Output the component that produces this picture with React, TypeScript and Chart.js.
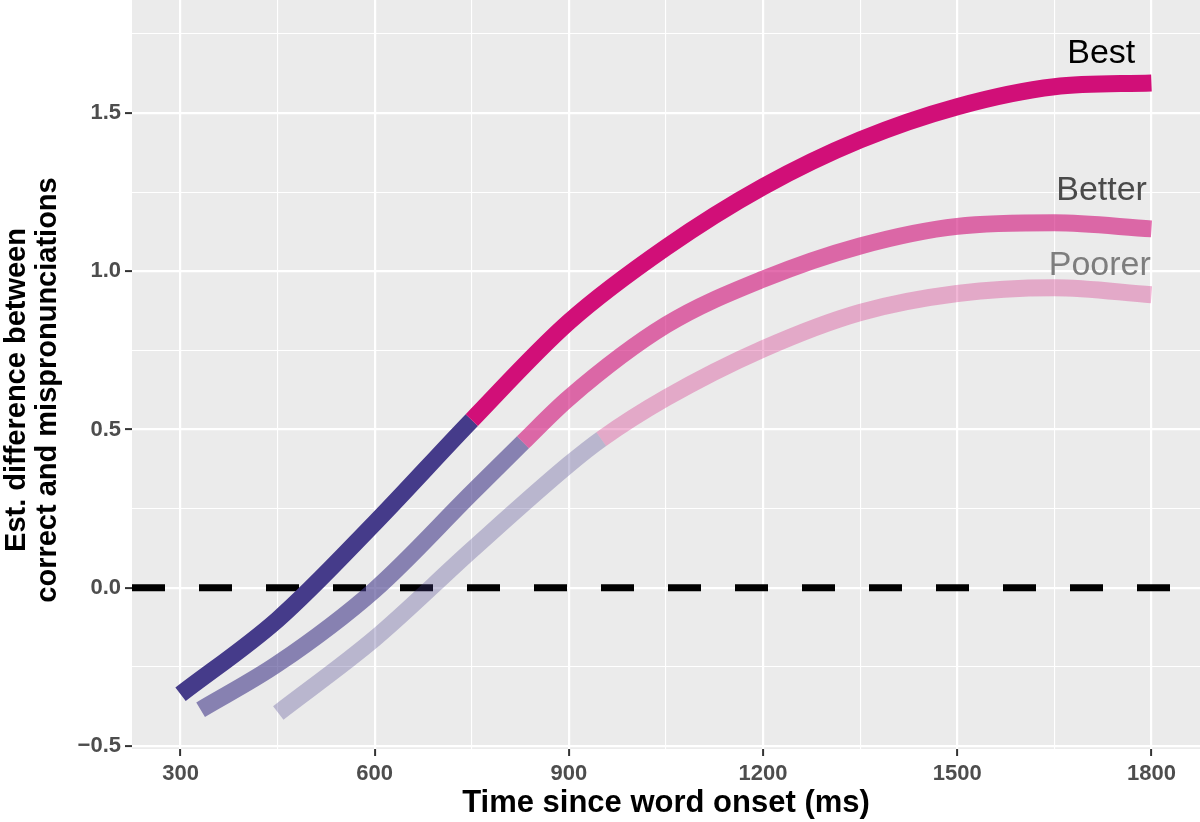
import React, { useEffect, useRef } from 'react';
import { Chart, registerables } from 'chart.js';

Chart.register(...registerables);

// Axis ranges and ticks
const X_MIN = 225;
const X_MAX = 1875;
const Y_MIN = -0.509;
const Y_MAX = 1.857;
const xMajorTicks = [300, 600, 900, 1200, 1500, 1800];
const xMinorTicks = [450, 750, 1050, 1350, 1650];
const yMajorTicks = [-0.5, 0, 0.5, 1.0, 1.5];
const yMinorTicks = [-0.25, 0.25, 0.75, 1.25, 1.75];
const yTickLabels = ['\u22120.5', '0.0', '0.5', '1.0', '1.5'];

// Series (time in ms, estimated difference)
const groupNames = ['Best', 'Better', 'Poorer'];

const bestX = [300, 450, 600, 750, 900, 1050, 1200, 1350, 1500, 1650, 1800];
const bestY = [-0.336, -0.1, 0.205, 0.53, 0.84, 1.075, 1.267, 1.415, 1.52, 1.583, 1.595];
const bestSwitch = 750;

const betterX = [331, 450, 600, 750, 829, 900, 1050, 1200, 1350, 1500, 1650, 1800];
const betterY = [-0.385, -0.24, -0.006, 0.3, 0.46, 0.6, 0.83, 0.975, 1.08, 1.142, 1.153, 1.134];
const betterSwitch = 829;

const poorerX = [451, 600, 750, 900, 950, 1050, 1200, 1350, 1500, 1650, 1800];
const poorerY = [-0.395, -0.16, 0.12, 0.39, 0.47, 0.6, 0.755, 0.87, 0.93, 0.948, 0.926];
const poorerSwitch = 950;

// Reference line
const refLineX = [X_MIN, X_MAX];
const refLineY = [0, 0];

// Text labels next to curve ends
const labelX = [1775, 1793, 1799];
const labelY = [1.659, 1.226, 0.989];
const labelColors = ['#000000', '#4a4a4a', '#7d7d7d'];

const lowColors = ['rgba(69,59,138,1)', 'rgba(69,59,138,0.6)', 'rgba(69,59,138,0.3)'];
const highColors = ['rgba(209,15,120,1)', 'rgba(209,15,120,0.6)', 'rgba(209,15,120,0.3)'];

const xTitle = 'Time since word onset (ms)';
const yTitle = ['Est. difference between', 'correct and mispronunciations'];

const FONT = "'Liberation Sans', Arial, Helvetica, sans-serif";

const seriesX = [bestX, betterX, poorerX];
const seriesY = [bestY, betterY, poorerY];
const switches = [bestSwitch, betterSwitch, poorerSwitch];

const bgPlugin = {
  id: 'panelBg',
  beforeDraw(chart: any) {
    const { ctx, chartArea } = chart;
    ctx.save();
    ctx.fillStyle = '#ffffff';
    ctx.fillRect(0, 0, chart.width, chart.height);
    ctx.fillStyle = '#EBEBEB';
    ctx.fillRect(chartArea.left, chartArea.top, chartArea.right - chartArea.left, chartArea.bottom - chartArea.top);
    ctx.restore();
  },
};

const textPlugin = {
  id: 'texts',
  afterDraw(chart: any) {
    const { ctx, chartArea } = chart;
    const xs = chart.scales.x;
    const ys = chart.scales.y;
    ctx.save();
    // curve labels
    ctx.font = `34px ${FONT}`;
    ctx.textAlign = 'right';
    ctx.textBaseline = 'alphabetic';
    groupNames.forEach((name, i) => {
      ctx.fillStyle = labelColors[i];
      ctx.fillText(name, xs.getPixelForValue(labelX[i]), ys.getPixelForValue(labelY[i]));
    });
    // x title
    ctx.fillStyle = '#000000';
    ctx.font = `bold 31px ${FONT}`;
    ctx.textAlign = 'center';
    ctx.fillText(xTitle, (chartArea.left + chartArea.right) / 2, 812);
    // y title
    ctx.translate(0, 390);
    ctx.rotate(-Math.PI / 2);
    ctx.font = `bold 29px ${FONT}`;
    ctx.fillText(yTitle[0], 0, 25);
    ctx.fillText(yTitle[1], 0, 56);
    ctx.restore();
  },
};

function buildTicks(major: number[], minor: number[]) {
  return [...major, ...minor].sort((a, b) => a - b).map((v) => ({ value: v }));
}

function isMajor(list: number[], v: number) {
  return list.some((m) => Math.abs(m - v) < 1e-9);
}

export default function App() {
  const ref = useRef<HTMLCanvasElement | null>(null);

  useEffect(() => {
    if (!ref.current) return;
    const curveSets = groupNames.map((name, i) => ({
      label: name,
      data: seriesX[i].map((x, j) => ({ x, y: seriesY[i][j] })),
      borderColor: lowColors[i],
      borderWidth: 17,
      borderCapStyle: 'butt' as const,
      borderJoinStyle: 'miter' as const,
      pointRadius: 0,
      cubicInterpolationMode: 'monotone' as const,
      fill: false,
      order: i + 1,
      segment: {
        borderColor: (c: any) => (c.p0.parsed.x < switches[i] ? lowColors[i] : highColors[i]),
      },
    }));
    const refSet = {
      label: 'zero',
      data: refLineX.map((x, j) => ({ x, y: refLineY[j] })),
      borderColor: '#000000',
      borderWidth: 7,
      borderDash: [33, 34],
      borderCapStyle: 'butt' as const,
      pointRadius: 0,
      fill: false,
      order: 10,
    };

    const chart = new Chart(ref.current, {
      type: 'line',
      data: { datasets: [...curveSets, refSet] as any },
      options: {
        animation: false,
        responsive: false,
        maintainAspectRatio: false,
        layout: { padding: 0 },
        plugins: { legend: { display: false }, tooltip: { enabled: false } },
        scales: {
          x: {
            type: 'linear',
            min: X_MIN,
            max: X_MAX,
            afterFit: (s: any) => {
              s.height = 73;
              s.paddingLeft = 0;
              s.paddingRight = 0;
            },
            afterBuildTicks: (s: any) => {
              s.ticks = buildTicks(xMajorTicks, xMinorTicks);
            },
            border: { display: false },
            grid: {
              color: '#ffffff',
              lineWidth: (c: any) => (isMajor(xMajorTicks, c.tick?.value) ? 2.2 : 1.1),
              tickColor: (c: any) => (isMajor(xMajorTicks, c.tick?.value) ? '#333333' : 'rgba(0,0,0,0)'),
              tickWidth: 2,
              tickLength: 7,
              drawTicks: true,
            },
            ticks: {
              autoSkip: false,
              maxRotation: 0,
              padding: 5,
              color: '#4D4D4D',
              font: { family: FONT, size: 22, weight: 'bold' },
              callback: (v: any) => (isMajor(xMajorTicks, v) ? String(v) : ''),
            },
          },
          y: {
            type: 'linear',
            min: Y_MIN,
            max: Y_MAX,
            afterFit: (s: any) => {
              s.width = 132;
              s.paddingTop = 0;
              s.paddingBottom = 0;
            },
            afterBuildTicks: (s: any) => {
              s.ticks = buildTicks(yMajorTicks, yMinorTicks);
            },
            border: { display: false },
            grid: {
              color: '#ffffff',
              lineWidth: (c: any) => (isMajor(yMajorTicks, c.tick?.value) ? 2.2 : 1.1),
              tickColor: (c: any) => (isMajor(yMajorTicks, c.tick?.value) ? '#333333' : 'rgba(0,0,0,0)'),
              tickWidth: 2,
              tickLength: 7,
              drawTicks: true,
            },
            ticks: {
              autoSkip: false,
              padding: 4,
              color: '#4D4D4D',
              font: { family: FONT, size: 22, weight: 'bold' },
              callback: (v: any) => {
                const k = yMajorTicks.findIndex((m) => Math.abs(m - v) < 1e-9);
                return k >= 0 ? yTickLabels[k] : '';
              },
            },
          },
        },
      },
      plugins: [bgPlugin, textPlugin],
    });
    return () => chart.destroy();
  }, []);

  return (
    <div style={{ position: 'absolute', left: 0, top: 0, width: 1200, height: 822 }}>
      <canvas ref={ref} width={1200} height={822} />
    </div>
  );
}
